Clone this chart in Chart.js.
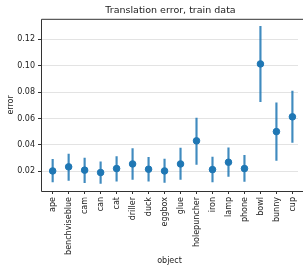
<!DOCTYPE html>
<html>
<head>
<meta charset="utf-8">
<script src="https://cdn.jsdelivr.net/npm/chart.js@4/dist/chart.umd.min.js"></script>
<style>
  html, body { margin: 0; padding: 0; background: #fff; overflow: hidden; }
  #wrap { width: 303px; height: 266px; }
</style>
</head>
<body>
<div id="wrap"><canvas id="myChart" width="303" height="266"></canvas></div>
<script>
const objects = ['ape', 'benchviseblue', 'cam', 'can', 'cat', 'driller', 'duck', 'eggbox',
  'glue', 'holepuncher', 'iron', 'lamp', 'phone', 'bowl', 'bunny', 'cup'];
const meanError = [0.0202, 0.0233, 0.0208, 0.0190, 0.0220, 0.0255, 0.0215, 0.0202,
  0.0255, 0.0430, 0.0212, 0.0268, 0.0220, 0.1013, 0.0500, 0.0612];
const lowError = [0.0118, 0.0130, 0.0114, 0.0108, 0.0125, 0.0137, 0.0125, 0.0115,
  0.0137, 0.0252, 0.0118, 0.0160, 0.0122, 0.0727, 0.0282, 0.0418];
const highError = [0.0290, 0.0330, 0.0300, 0.0272, 0.0310, 0.0372, 0.0305, 0.0292,
  0.0375, 0.0603, 0.0308, 0.0378, 0.0320, 0.1298, 0.0718, 0.0808];
const yTicks = [0.02, 0.04, 0.06, 0.08, 0.10, 0.12];
const titleText = 'Translation error, train data';

const blue = '#1f77b4';
const font = 'DejaVu Sans';

// top/left/bottom frame, title centred over the axes, x labels read bottom to top
const framePlugin = {
  id: 'frame',
  afterDraw(chart) {
    const a = chart.chartArea;
    const c = chart.ctx;
    const xs = chart.scales.x;
    c.save();
    c.strokeStyle = '#333';
    c.lineWidth = 1;
    c.beginPath();
    c.moveTo(chart.width, a.top + 0.5);
    c.lineTo(a.left + 0.5, a.top + 0.5);
    c.lineTo(a.left + 0.5, a.bottom + 0.5);
    c.lineTo(chart.width, a.bottom + 0.5);
    c.stroke();

    c.fillStyle = '#222';
    c.font = '9.5px "DejaVu Sans"';
    c.textAlign = 'center';
    c.textBaseline = 'middle';
    c.fillText(titleText, (a.left + a.right) / 2 + 1, 11);

    c.font = '8px "DejaVu Sans"';
    c.textAlign = 'right';
    objects.forEach((name, i) => {
      const px = xs.getPixelForValue(i);
      c.save();
      c.translate(px + 0.5, a.bottom + 6);
      c.rotate(-Math.PI / 2);
      c.fillText(name, 0, 0);
      c.restore();
    });
    c.restore();
  }
};

const ctx = document.getElementById('myChart').getContext('2d');
new Chart(ctx, {
  data: {
    datasets: [{
      type: 'bar',
      data: objects.map((o, i) => ({ x: i, y: [lowError[i], highError[i]] })),
      backgroundColor: 'rgba(31,119,180,0.85)',
      barThickness: 1.5,
      order: 2
    }, {
      type: 'scatter',
      data: objects.map((o, i) => ({ x: i, y: meanError[i] })),
      backgroundColor: blue,
      borderColor: blue,
      pointRadius: 3.3,
      order: 1
    }]
  },
  options: {
    responsive: false,
    animation: false,
    layout: { padding: { left: 6, right: 0, top: 0, bottom: 0 } },
    plugins: {
      legend: { display: false },
      tooltip: { enabled: false },
      title: {
        display: true,
        text: titleText,
        color: 'rgba(0,0,0,0)',
        font: { family: font, size: 9, weight: 'normal' },
        padding: { top: 4, bottom: 4 }
      }
    },
    scales: {
      x: {
        type: 'linear',
        offset: false,
        min: -0.73,
        max: 15.35,
        afterBuildTicks: s => { s.ticks = objects.map((o, i) => ({ value: i })); },
        afterFit: s => { s.height = 75; },
        ticks: {
          callback: () => '',
          autoSkip: false,
          maxRotation: 0,
          font: { family: font, size: 8 }
        },
        grid: { drawOnChartArea: false, tickLength: 3, tickColor: '#333', offset: false },
        border: { display: false },
        title: {
          display: true,
          text: 'object',
          color: '#222',
          font: { family: font, size: 8 },
          padding: { top: 0, bottom: 0 }
        }
      },
      y: {
        min: 0.005,
        max: 0.1355,
        afterBuildTicks: s => { s.ticks = yTicks.map(v => ({ value: v })); },
        afterFit: s => { s.width = 35; },
        ticks: {
          callback: v => v.toFixed(2),
          color: '#222',
          padding: 3,
          font: { family: font, size: 8 }
        },
        grid: { color: '#e3e3e3', tickLength: 3, tickColor: '#333' },
        border: { display: false },
        title: {
          display: true,
          text: 'error',
          color: '#222',
          font: { family: font, size: 8 },
          padding: { top: 0, bottom: 0 }
        }
      }
    }
  },
  plugins: [framePlugin]
});
</script>
</body>
</html>
